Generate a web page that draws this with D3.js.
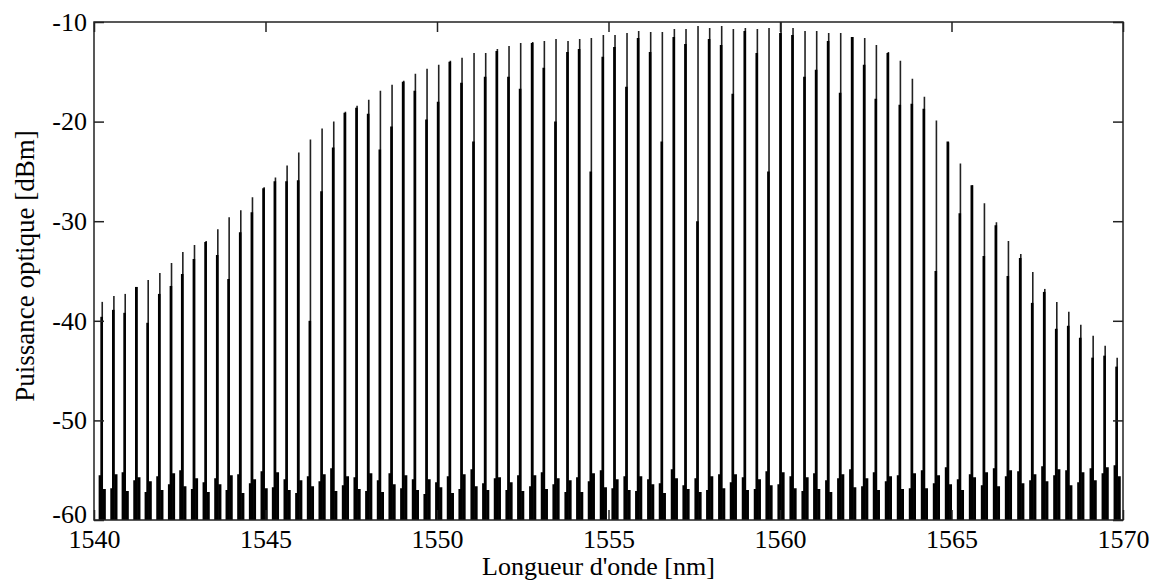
<!DOCTYPE html>
<html>
<head>
<meta charset="utf-8">
<script src="https://cdn.jsdelivr.net/npm/d3@7"></script>
<style>
  body { margin: 0; background: #fff; }
  text { font-family: "Liberation Serif", "Times New Roman", serif; }
</style>
</head>
<body>
<div id="spectrum"></div>
<script>

// comb line wavelengths [nm]
var lineWl = [
  1540.24, 1540.58, 1540.91, 1541.25, 1541.58, 1541.92, 1542.26, 1542.59, 1542.93, 1543.27,
  1543.61, 1543.94, 1544.28, 1544.62, 1544.96, 1545.29, 1545.63, 1545.97, 1546.31, 1546.65,
  1546.99, 1547.33, 1547.67, 1548.01, 1548.35, 1548.69, 1549.03, 1549.37, 1549.71, 1550.05,
  1550.39, 1550.73, 1551.08, 1551.42, 1551.76, 1552.10, 1552.44, 1552.79, 1553.13, 1553.47,
  1553.82, 1554.16, 1554.50, 1554.85, 1555.19, 1555.54, 1555.88, 1556.23, 1556.57, 1556.92,
  1557.26, 1557.61, 1557.95, 1558.30, 1558.64, 1558.99, 1559.34, 1559.68, 1560.03, 1560.38,
  1560.73, 1561.07, 1561.42, 1561.77, 1562.12, 1562.47, 1562.81, 1563.16, 1563.51, 1563.86,
  1564.21, 1564.56, 1564.91, 1565.26, 1565.61, 1565.96, 1566.31, 1566.66, 1567.02, 1567.37,
  1567.72, 1568.07, 1568.42, 1568.77, 1569.13, 1569.48, 1569.83
];

// peak power of each line [dBm]
var peakDbm = [
  -38.1, -37.5, -37.3, -36.6, -35.9, -35.2, -34.2, -33.1, -32.4, -32.0,
  -30.8, -29.6, -28.9, -27.6, -26.6, -25.6, -24.4, -23.1, -21.8, -20.7,
  -20.0, -19.0, -18.4, -17.8, -16.9, -16.3, -15.9, -15.2, -14.7, -14.3,
  -13.9, -13.6, -13.1, -13.1, -12.7, -12.4, -12.1, -12.0, -11.9, -11.7,
  -11.9, -11.7, -11.6, -11.3, -11.3, -11.1, -10.9, -11.0, -11.0, -10.7,
  -10.7, -10.4, -10.6, -10.4, -10.7, -10.6, -10.7, -10.6, -10.0, -10.6,
  -10.9, -10.9, -11.1, -11.1, -11.5, -11.6, -12.3, -13.0, -13.9, -15.7,
  -17.5, -19.9, -22.1, -24.2, -26.4, -28.2, -30.1, -32.0, -33.3, -35.1,
  -36.8, -38.1, -39.1, -40.4, -41.5, -42.5, -43.7
];

// level where the thick (dark) part of each line stops [dBm]
var shoulderDbm = [
  -39.6, -38.9, -39.2, -36.6, -40.2, -37.3, -36.5, -35.3, -33.8, -32.1,
  -33.4, -35.8, -31.1, -29.1, -26.7, -26.0, -26.0, -25.9, -40.0, -27.0,
  -22.6, -19.1, -18.6, -19.2, -22.8, -20.5, -16.0, -16.9, -19.8, -18.0,
  -14.0, -16.1, -22.0, -15.5, -12.9, -15.5, -16.7, -12.1, -14.6, -20.0,
  -13.0, -12.7, -25.0, -13.5, -12.5, -16.5, -11.6, -13.0, -22.0, -11.5,
  -12.2, -30.0, -11.7, -12.3, -17.2, -10.9, -13.1, -25.0, -11.1, -11.3,
  -15.5, -14.8, -11.9, -17.1, -11.5, -14.3, -17.7, -13.1, -18.3, -18.2,
  -18.7, -35.0, -22.0, -29.2, -26.4, -33.5, -30.4, -35.5, -33.7, -38.2,
  -37.1, -40.8, -40.5, -41.7, -43.7, -43.5, -44.6
];

// top of the noise skirt, left and right of each line [dBm]
var noiseL = [
  -55.5, -56.8, -55.2, -56.0, -57.2, -55.6, -56.4, -55.0, -56.9, -56.2,
  -55.8, -57.0, -55.4, -56.3, -55.1, -56.7, -55.9, -57.3, -55.6, -56.1,
  -54.8, -56.5, -55.7, -57.1, -56.0, -55.3, -56.8, -55.9, -57.4, -56.2,
  -55.6, -56.9, -54.9, -56.3, -55.8, -57.0, -55.5, -56.6, -55.2, -56.4,
  -57.2, -55.7, -56.1, -55.0, -56.8, -55.6, -57.1, -55.9, -56.3, -54.9,
  -56.5, -55.8, -57.0, -55.4, -56.2, -55.7, -56.9, -55.1, -56.4, -55.6,
  -57.1, -55.3, -56.0, -55.8, -54.9, -56.6, -55.2, -56.1, -55.5, -56.8,
  -55.0, -56.3, -54.7, -55.9, -55.4, -56.5, -54.8, -55.6, -55.1, -56.0,
  -54.6, -55.5, -55.0, -56.2, -54.8, -55.3, -54.5
];
var noiseR = [
  -56.9, -55.4, -57.1, -55.7, -56.1, -57.0, -55.3, -56.6, -55.8, -57.2,
  -56.4, -55.5, -57.3, -55.9, -56.8, -55.2, -57.0, -56.0, -56.6, -55.4,
  -57.1, -55.6, -56.9, -55.3, -57.2, -56.4, -55.5, -57.0, -55.9, -56.7,
  -57.3, -55.4, -56.6, -57.0, -55.7, -56.2, -57.1, -55.5, -56.9, -55.8,
  -56.0, -57.2, -55.3, -56.7, -55.9, -57.0, -55.6, -56.4, -57.3, -55.8,
  -56.9, -57.2, -55.6, -56.8, -55.4, -57.0, -55.9, -56.5, -55.2, -56.8,
  -55.7, -56.9, -57.2, -55.4, -56.7, -55.8, -57.0, -55.6, -56.9, -55.3,
  -56.8, -55.5, -56.4, -57.0, -55.7, -55.2, -56.6, -55.0, -56.3, -55.4,
  -56.1, -54.9, -56.5, -55.2, -56.0, -54.7, -55.6
];

var xTicks = [1540, 1545, 1550, 1555, 1560, 1565, 1570];
var yTicks = [-60, -50, -40, -30, -20, -10];
var skirtHalf = 0.105;   // nm, half width of the noise skirt

var width = 1151,
    height = 581,
    margin = {top: 22, right: 28, bottom: 61, left: 94};

var w = width - margin.left - margin.right,
    h = height - margin.top - margin.bottom;

var x = d3.scaleLinear().domain([1540, 1570]).range([0, w]);
var y = d3.scaleLinear().domain([-60, -10]).range([h, 0]);

var svg = d3.select("#spectrum")
  .append("svg")
    .attr("width", width)
    .attr("height", height)
  .append("g")
    .attr("transform", "translate(" + margin.left + "," + margin.top + ")");

svg.append("clipPath")
    .attr("id", "plotclip")
  .append("rect")
    .attr("width", w)
    .attr("height", h);

var plot = svg.append("g").attr("clip-path", "url(#plotclip)");

var lines = lineWl.map(function(wl, i) {
  return {wl: wl, peak: peakDbm[i], shoulder: shoulderDbm[i], nl: noiseL[i], nr: noiseR[i]};
});

// noise skirt blocks at the foot of every line
var skirt = d3.line()
  .x(function(p) { return x(p[0]); })
  .y(function(p) { return y(p[1]); });

plot.selectAll(".skirt")
  .data(lines)
  .enter()
  .append("path")
    .attr("class", "skirt")
    .attr("d", function(d) {
      return skirt([
        [d.wl - skirtHalf, -60], [d.wl - skirtHalf, d.nl], [d.wl, d.nl],
        [d.wl, d.nr], [d.wl + skirtHalf, d.nr], [d.wl + skirtHalf, -60]
      ]) + "Z";
    })
    .attr("fill", "#000");

// thin part of each line up to its peak
plot.selectAll(".spike")
  .data(lines)
  .enter()
  .append("line")
    .attr("class", "spike")
    .attr("x1", function(d) { return x(d.wl); })
    .attr("x2", function(d) { return x(d.wl); })
    .attr("y1", y(-60))
    .attr("y2", function(d) { return y(d.peak); })
    .attr("stroke", "#222")
    .attr("stroke-width", 1.6);

// thick dark part below the shoulder
plot.selectAll(".body")
  .data(lines)
  .enter()
  .append("line")
    .attr("class", "body")
    .attr("x1", function(d) { return x(d.wl) - 0.6; })
    .attr("x2", function(d) { return x(d.wl) - 0.6; })
    .attr("y1", y(-60))
    .attr("y2", function(d) { return y(d.shoulder); })
    .attr("stroke", "#000")
    .attr("stroke-width", 2.6);

// frame and inward ticks on all four sides
var tickLen = 10;
var axisColor = "#222";
var fmt = function(d) { return String(d); };   // plain hyphen minus

svg.append("rect")
    .attr("width", w)
    .attr("height", h)
    .attr("fill", "none")
    .attr("stroke", axisColor)
    .attr("stroke-width", 1.5);

var xAxisB = d3.axisBottom(x).tickValues(xTicks).tickSize(-tickLen).tickPadding(10).tickFormat(fmt);
var xAxisT = d3.axisTop(x).tickValues(xTicks).tickSize(-tickLen).tickFormat("");
var yAxisL = d3.axisLeft(y).tickValues(yTicks).tickSize(-tickLen).tickPadding(7).tickFormat(fmt);
var yAxisR = d3.axisRight(y).tickValues(yTicks).tickSize(-tickLen).tickFormat("");

function styleAxis(g) {
  g.select(".domain").remove();
  g.selectAll(".tick line").attr("stroke", axisColor).attr("stroke-width", 1.5);
  g.selectAll(".tick text")
    .attr("fill", "#000")
    .style("font-size", "26px")
    .style("font-family", "'Liberation Serif', serif");
}

svg.append("g").attr("transform", "translate(0," + h + ")").call(xAxisB).call(styleAxis);
svg.append("g").call(xAxisT).call(styleAxis);
svg.append("g").call(yAxisL).call(styleAxis);
svg.append("g").attr("transform", "translate(" + w + ",0)").call(yAxisR).call(styleAxis);

// nudge the lowest y label up a little so it clears "1540"
svg.selectAll(".tick text").filter(function(d) { return d === -60; }).attr("dy", "0.08em");

svg.append("text")
    .attr("x", w / 2 - 10)
    .attr("y", h + 55)
    .attr("text-anchor", "middle")
    .style("font-size", "26px")
    .text("Longueur d'onde [nm]");

svg.append("text")
    .attr("transform", "translate(" + (-60) + "," + (h / 2 - 5) + ") rotate(-90)")
    .attr("text-anchor", "middle")
    .style("font-size", "27px")
    .text("Puissance optique [dBm]");

</script>
</body>
</html>
